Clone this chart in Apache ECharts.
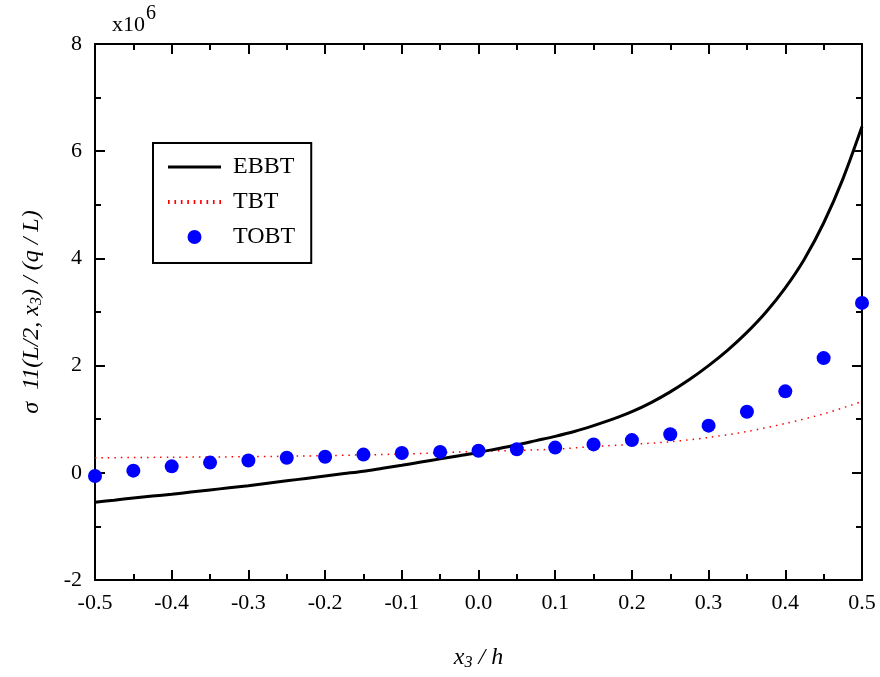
<!DOCTYPE html>
<html>
<head>
<meta charset="utf-8">
<script src="https://cdn.jsdelivr.net/npm/echarts@6/dist/echarts.min.js"></script>
<style>html,body{margin:0;padding:0;background:#fff}#c{width:880px;height:677px}</style>
</head>
<body>
<div id="c"></div>
<script>
// values in units of 1e6
const xEBBT = [-0.5,-0.475,-0.45,-0.425,-0.4,-0.375,-0.35,-0.325,-0.3,-0.275,-0.25,-0.225,-0.2,-0.175,-0.15,-0.125,-0.1,-0.075,-0.05,-0.025,
  0,0.025,0.05,0.075,0.1,0.125,0.15,0.175,0.2,0.225,0.25,0.275,0.3,0.325,0.35,0.375,0.4,0.425,0.45,0.475,0.5];
const yEBBT = [-0.55,-0.51,-0.47,-0.435,-0.40,-0.36,-0.32,-0.28,-0.24,-0.195,-0.15,-0.105,-0.06,-0.015,0.03,0.085,0.14,0.20,0.26,0.32,
  0.38,0.45,0.52,0.60,0.68,0.77,0.88,1.00,1.14,1.31,1.51,1.74,2.00,2.29,2.62,3.00,3.45,3.99,4.66,5.48,6.46];
const xTBT = [-0.5,-0.4,-0.3,-0.2,-0.1,0,0.1,0.15,0.2,0.25,0.3,0.35,0.4,0.45,0.5];
const yTBT = [0.28,0.29,0.30,0.32,0.35,0.40,0.44,0.49,0.53,0.58,0.66,0.77,0.92,1.10,1.33];
const xTOBT = [-0.5,-0.45,-0.4,-0.35,-0.3,-0.25,-0.2,-0.15,-0.1,-0.05,0,0.05,0.1,0.15,0.2,0.25,0.3,0.35,0.4,0.45,0.5];
const yTOBT = [-0.06,0.04,0.12,0.19,0.23,0.28,0.30,0.34,0.37,0.39,0.41,0.44,0.47,0.53,0.61,0.72,0.88,1.14,1.52,2.14,3.17];
const seriesNames = ['EBBT','TBT','TOBT'];

const zip = (xs, ys) => xs.map((x, i) => [x, ys[i]]);
const FONT = 'Liberation Serif';
const chart = echarts.init(document.getElementById('c'), null, {renderer: 'canvas'});

const axisCommon = {
  axisLine: {show: true, onZero: false, lineStyle: {color: '#000', width: 2}},
  axisTick: {show: true, inside: true, length: 10, lineStyle: {color: '#000', width: 2}},
  minorTick: {show: true, splitNumber: 2, length: 6, lineStyle: {color: '#000', width: 2}},
  splitLine: {show: false}
};

// legend icons
let dots = '';
for (let i = 0; i < 9; i++) dots += 'M' + (i * 6.2) + ',0h1.6v4h-1.6z ';
const solidIcon = 'path://M0,0H53V3H0Z';
const dotIcon = 'path://' + dots;

chart.setOption({
  animation: false,
  backgroundColor: '#fff',
  grid: {left: 95, right: 18, top: 44, bottom: 97},
  xAxis: [
    Object.assign({
      type: 'value', min: -0.5, max: 0.5, interval: 0.1, position: 'bottom',
      axisLabel: {fontFamily: FONT, fontSize: 22, color: '#000', margin: 12,
        formatter: v => v.toFixed(1)},
      name: '{i|x}{s|3}{i| / h}', nameLocation: 'middle', nameGap: 64,
      nameTextStyle: {rich: {
        i: {fontFamily: FONT, fontSize: 24, fontStyle: 'italic', color: '#000'},
        s: {fontFamily: FONT, fontSize: 16, fontStyle: 'italic', color: '#000', verticalAlign: 'bottom', padding: [11, 0, 0, 0]}
      }}
    }, axisCommon),
    Object.assign({
      type: 'value', min: -0.5, max: 0.5, interval: 0.1, position: 'top',
      axisLabel: {show: false}
    }, axisCommon)
  ],
  yAxis: [
    Object.assign({
      type: 'value', min: -2, max: 8, interval: 2, position: 'left',
      axisLabel: {fontFamily: FONT, fontSize: 22, color: '#000', margin: 13},
      name: '{i|σ  11(L/2, x}{s|3}{i|) / (q / L)}', nameLocation: 'middle', nameGap: 50, nameRotate: 90,
      nameTextStyle: {rich: {
        i: {fontFamily: FONT, fontSize: 24, fontStyle: 'italic', color: '#000'},
        s: {fontFamily: FONT, fontSize: 16, fontStyle: 'italic', color: '#000', verticalAlign: 'bottom', padding: [11, 0, 0, 0]}
      }}
    }, axisCommon),
    Object.assign({
      type: 'value', min: -2, max: 8, interval: 2, position: 'right',
      axisLabel: {show: false}
    }, axisCommon)
  ],
  legend: {
    orient: 'vertical', left: 153, top: 143,
    data: [
      {name: seriesNames[0], icon: solidIcon, itemStyle: {color: '#000'}},
      {name: seriesNames[1], icon: dotIcon, itemStyle: {color: '#ff0000'}},
      {name: seriesNames[2], icon: 'circle', itemStyle: {color: '#0000ff'}}
    ],
    borderColor: '#000', borderWidth: 2, borderRadius: 0,
    padding: [12, 16, 14, 15],
    itemWidth: 53, itemHeight: 14, itemGap: 11,
    textStyle: {fontFamily: FONT, fontSize: 24, color: '#000', padding: [0, 0, 0, 7]}
  },
  graphic: [
    {type: 'text', left: 112, top: 14, style: {text: 'x10', font: '22px "Liberation Serif"', fill: '#000'}},
    {type: 'text', left: 146, top: 4, style: {text: '6', font: '20px "Liberation Serif"', fill: '#000'}}
  ],
  series: [
    {name: seriesNames[0], type: 'line', data: zip(xEBBT, yEBBT), showSymbol: false, symbol: 'none',
      smooth: 0.3, lineStyle: {color: '#000', width: 3}, itemStyle: {color: '#000'}, z: 3},
    {name: seriesNames[1], type: 'line', data: zip(xTBT, yTBT), showSymbol: false, symbol: 'none',
      smooth: 0.3, lineStyle: {color: '#ff0000', width: 1.5, type: [1.5, 5]}, itemStyle: {color: '#ff0000'}, z: 2},
    {name: seriesNames[2], type: 'scatter', data: zip(xTOBT, yTOBT), symbol: 'circle', symbolSize: 14,
      itemStyle: {color: '#0000ff', opacity: 1}, z: 4}
  ]
});
</script>
</body>
</html>
